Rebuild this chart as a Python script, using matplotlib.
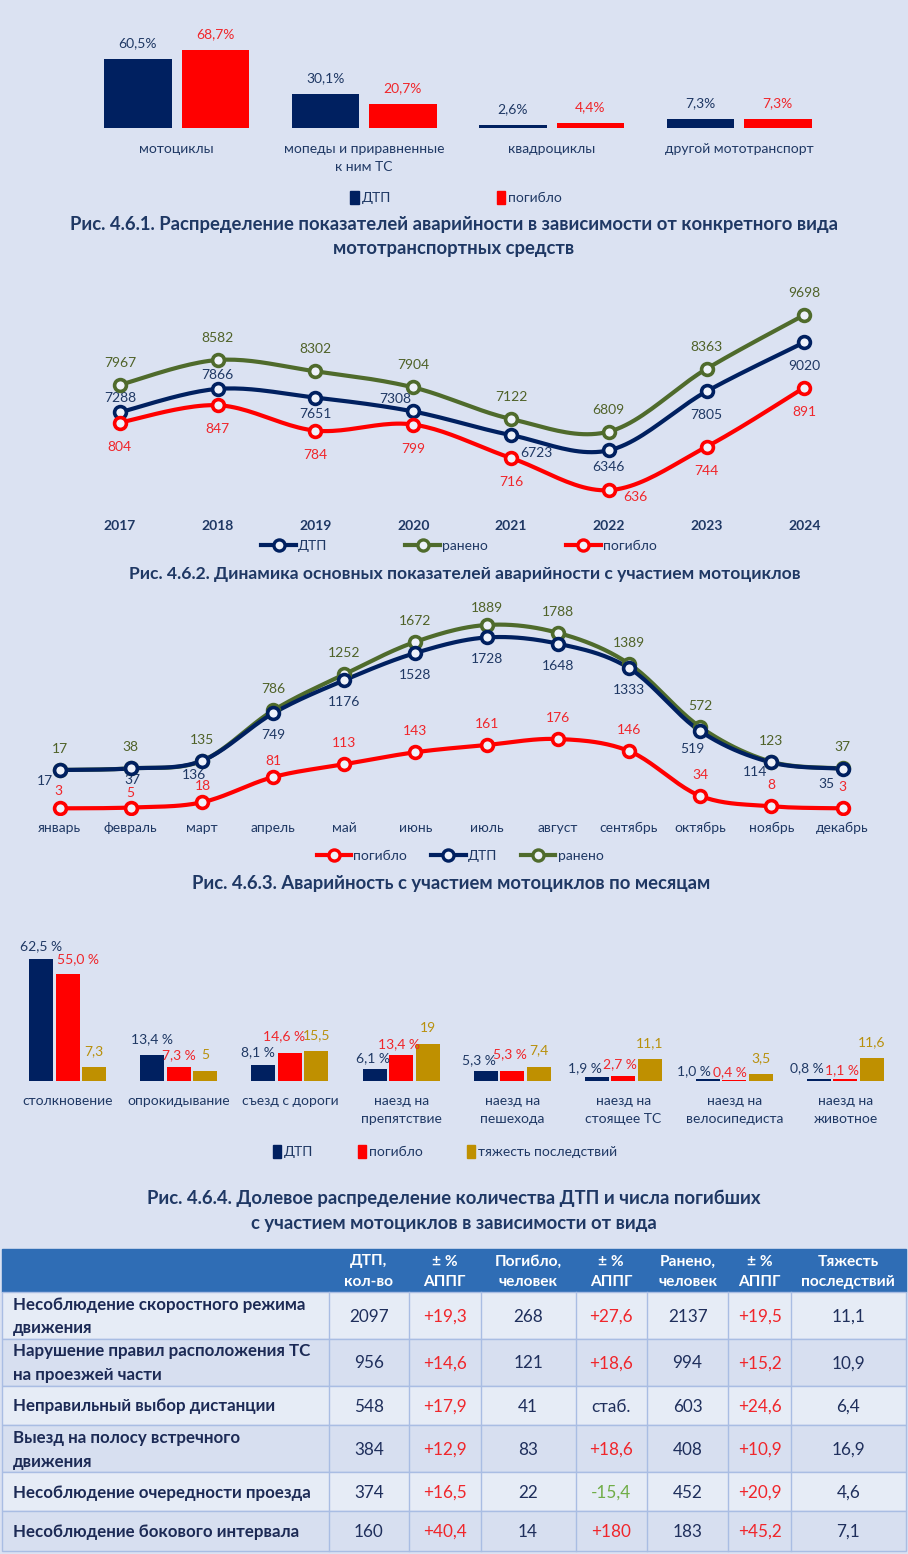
import numpy as np
import matplotlib
matplotlib.use('Agg')
import matplotlib.pyplot as plt
from matplotlib.patches import Rectangle, Patch
from matplotlib.lines import Line2D

plt.rcParams['font.family'] = ['Lato', 'DejaVu Sans']

# ------------------------------------------------
# DATA
# ------------------------------------------------

vid_cats = ['мотоциклы', 'мопеды и приравненные\nк ним ТС', 'квадроциклы', 'другой мототранспорт']
vid_dtp = [60.5, 30.1, 2.6, 7.3]
vid_killed = [68.7, 20.7, 4.4, 7.3]

years = ['2017', '2018', '2019', '2020', '2021', '2022', '2023', '2024']
year_dtp = [7288, 7866, 7651, 7308, 6723, 6346, 7805, 9020]
year_injured = [7967, 8582, 8302, 7904, 7122, 6809, 8363, 9698]
year_killed = [804, 847, 784, 799, 716, 636, 744, 891]

months = ['январь', 'февраль', 'март', 'апрель', 'май', 'июнь', 'июль',
          'август', 'сентябрь', 'октябрь', 'ноябрь', 'декабрь']
month_killed = [3, 5, 18, 81, 113, 143, 161, 176, 146, 34, 8, 3]
month_dtp = [17, 37, 136, 749, 1176, 1528, 1728, 1648, 1333, 519, 114, 35]
month_injured = [17, 38, 135, 786, 1252, 1672, 1889, 1788, 1389, 572, 123, 37]

types = ['столкновение', 'опрокидывание', 'съезд с дороги', 'наезд на\nпрепятствие',
         'наезд на\nпешехода', 'наезд на\nстоящее ТС', 'наезд на\nвелосипедиста', 'наезд на\nживотное']
type_dtp = [62.5, 13.4, 8.1, 6.1, 5.3, 1.9, 1.0, 0.8]
type_killed = [55.0, 7.3, 14.6, 13.4, 5.3, 2.7, 0.4, 1.1]
type_severity = [7.3, 5, 15.5, 19, 7.4, 11.1, 3.5, 11.6]

tab_rows = ['Несоблюдение скоростного режима\nдвижения',
            'Нарушение правил расположения ТС\nна проезжей части',
            'Неправильный выбор дистанции',
            'Выезд на полосу встречного\nдвижения',
            'Несоблюдение очередности проезда',
            'Несоблюдение бокового интервала']
tab_head = ['ДТП,\nкол-во', '± %\nАППГ', 'Погибло,\nчеловек', '± %\nАППГ',
            'Ранено,\nчеловек', '± %\nАППГ', 'Тяжесть\nпоследствий']
tab_dtp = [2097, 956, 548, 384, 374, 160]
tab_dtp_chg = ['+19,3', '+14,6', '+17,9', '+12,9', '+16,5', '+40,4']
tab_killed = [268, 121, 41, 83, 22, 14]
tab_killed_chg = ['+27,6', '+18,6', 'стаб.', '+18,6', '-15,4', '+180']
tab_injured = [2137, 994, 603, 408, 452, 183]
tab_injured_chg = ['+19,5', '+15,2', '+24,6', '+10,9', '+20,9', '+45,2']
tab_severity = ['11,1', '10,9', '6,4', '16,9', '4,6', '7,1']

# ------------------------------------------------
# STYLE
# ------------------------------------------------

BG = '#dbe2f2'
NAVY = '#002060'
RED = '#ff0000'
GREEN = '#4f6b2c'
GOLD = '#bf9000'
TXT = '#1f3864'
RED_T = '#f0262b'
GREEN_T = '#4f6228'
GOLD_T = '#b8900c'
MFC = '#eef2fa'

W, H = 908, 1554
fig = plt.figure(figsize=(W / 100, H / 100), dpi=100, facecolor=BG)


def box(l, t, r, b):
    return fig.add_axes([l / W, 1 - b / H, (r - l) / W, (b - t) / H])


def clean(ax):
    ax.set_facecolor('none')
    for s in ax.spines.values():
        s.set_visible(False)
    ax.tick_params(length=0)
    ax.set_yticks([])


def fmt(v, dec=1):
    return f'{v:.{dec}f}'.replace('.', ',')


def lbl(ax, x, y, s, dx, dy, color, size=10):
    ax.annotate(s, (x, y), xytext=(dx * 0.72, dy * 0.72), textcoords='offset points',
                ha='center', va='center', fontsize=size, color=color)


def smooth(x, y, n=24):
    # Catmull-Rom curve through the points, like Excel's smoothed line
    p = np.column_stack((x, y)).astype(float)
    p = np.vstack((p[0], p, p[-1]))
    out = []
    t = np.linspace(0, 1, n)[:, None]
    for i in range(1, len(p) - 2):
        p0, p1, p2, p3 = p[i - 1], p[i], p[i + 1], p[i + 2]
        seg = 0.5 * ((2 * p1) + (-p0 + p2) * t + (2 * p0 - 5 * p1 + 4 * p2 - p3) * t ** 2
                     + (-p0 + 3 * p1 - 3 * p2 + p3) * t ** 3)
        out.append(seg)
    out = np.vstack(out)
    return out[:, 0], out[:, 1]


def curve(ax, x, y, color, z=3):
    sx, sy = smooth(x, y)
    ax.plot(sx, sy, color=color, lw=3, solid_capstyle='round', zorder=z)
    ax.plot(x, y, 'o', ms=8.5, mfc=MFC, mec=color, mew=2.6, zorder=z + 1)


def line_handle(color):
    return Line2D([], [], color=color, lw=3, marker='o', ms=8, mfc=MFC, mec=color, mew=2.4)


def title(lines, cx, ys, size=13.3):
    for s, y in zip(lines, ys):
        fig.text(cx / W, 1 - y / H, s, ha='center', va='center', fontsize=size,
                 weight='bold', color=TXT)


# ------------------------------------------------
# 4.6.1  BARS BY VEHICLE TYPE
# ------------------------------------------------

ax1 = box(82.9, 37.3, 832.9, 127.7)
clean(ax1)
x = np.arange(len(vid_cats))
ax1.bar(x - 0.2064, vid_dtp, 0.36, color=NAVY)
ax1.bar(x + 0.2064, vid_killed, 0.36, color=RED)
ax1.set_xlim(-0.5, 3.5)
ax1.set_ylim(0, 80)
ax1.set_xticks(x, vid_cats, color=TXT, fontsize=10, linespacing=1.6)
ax1.tick_params(axis='x', pad=11)
for xi, v in zip(x, vid_dtp):
    lbl(ax1, xi - 0.2064, v, fmt(v) + '%', 0, 16, TXT)
for xi, v in zip(x, vid_killed):
    lbl(ax1, xi + 0.2064, v, fmt(v) + '%', 0, 16, RED_T)

fig.legend(handles=[Patch(color=NAVY), Patch(color=RED)], labels=['ДТП', 'погибло'],
           loc='center', bbox_to_anchor=(456 / W, 1 - 197.7 / H), ncol=2, frameon=False,
           fontsize=10, labelcolor=TXT, handlelength=0.6, handleheight=1.0,
           handletextpad=0.2, columnspacing=7.6)
title(['Рис. 4.6.1. Распределение показателей аварийности в зависимости от конкретного вида',
       'мототранспортных средств'], 454, [224.3, 248.3])

# ------------------------------------------------
# 4.6.2  DYNAMICS BY YEAR
# ------------------------------------------------

ax2 = box(71, 302.7, 853.2, 504.7)
clean(ax2)
ax2b = ax2.twinx()
clean(ax2b)
x = np.arange(len(years))
curve(ax2, x, year_injured, GREEN)
curve(ax2, x, year_dtp, NAVY)
curve(ax2b, x, year_killed, RED)
ax2.set_xlim(-0.5, 7.5)
ax2.set_ylim(5000, 10000)
ax2b.set_ylim(600, 1101.6)
ax2.set_xticks(x, years, color=TXT, fontsize=10, weight='bold')
ax2.tick_params(axis='x', pad=11)

dtp_off = [(0, 14), (0, 14), (0, -16), (-18, 12), (25, -18), (0, -17), (0, -24), (0, -24)]
killed_off = [(0, -24)] * 5 + [(27, -7), (0, -24), (0, -24)]
for xi, v in zip(x, year_injured):
    lbl(ax2, xi, v, str(v), 0, 22, GREEN_T)
for xi, v, o in zip(x, year_dtp, dtp_off):
    lbl(ax2, xi, v, str(v), o[0], o[1], TXT)
for xi, v, o in zip(x, year_killed, killed_off):
    lbl(ax2b, xi, v, str(v), o[0], o[1], RED_T)

fig.legend(handles=[line_handle(NAVY), line_handle(GREEN), line_handle(RED)],
           labels=['ДТП', 'ранено', 'погибло'], loc='center',
           bbox_to_anchor=(459 / W, 1 - 545.7 / H), ncol=3, frameon=False, fontsize=10,
           labelcolor=TXT, handlelength=2.5, handletextpad=0.15, columnspacing=5.6,
           numpoints=1)
title(['Рис. 4.6.2. Динамика основных показателей аварийности с участием мотоциклов'],
      465, [574.3], size=12.6)

# ------------------------------------------------
# 4.6.3  BY MONTH
# ------------------------------------------------

ax3 = box(24, 600, 878.1, 815)
clean(ax3)
ax3b = ax3.twinx()
clean(ax3b)
x = np.arange(len(months))
curve(ax3, x, month_injured, GREEN)
curve(ax3, x, month_dtp, NAVY)
curve(ax3b, x, month_killed, RED)
ax3.set_xlim(-0.5, 11.5)
ax3.set_ylim(-564, 2211.7)
ax3b.set_ylim(-13.7, 523)
ax3.set_xticks(x, months, color=TXT, fontsize=10)
ax3.tick_params(axis='x', pad=5)

inj_off = [(0, 21)] * 6 + [(0, 17)] + [(0, 21)] * 5
dtp_off = [(-15, -11), (2, -12), (-8, -14)] + [(0, -22)] * 6 + [(-8, -18), (-16, -10), (-16, -15)]
kil_off = [(-1, 17), (0, 15), (1, 16), (0, 16)] + [(0, 21)] * 8
for xi, v, o in zip(x, month_injured, inj_off):
    lbl(ax3, xi, v, str(v), o[0], o[1], GREEN_T)
for xi, v, o in zip(x, month_dtp, dtp_off):
    lbl(ax3, xi, v, str(v), o[0], o[1], TXT)
for xi, v, o in zip(x, month_killed, kil_off):
    lbl(ax3b, xi, v, str(v), o[0], o[1], RED_T)

fig.legend(handles=[line_handle(RED), line_handle(NAVY), line_handle(GREEN)],
           labels=['погибло', 'ДТП', 'ранено'], loc='center',
           bbox_to_anchor=(460 / W, 1 - 856 / H), ncol=3, frameon=False, fontsize=10,
           labelcolor=TXT, handlelength=2.5, handletextpad=0.15, columnspacing=1.7,
           numpoints=1)
title(['Рис. 4.6.3. Аварийность с участием мотоциклов по месяцам'], 451.6, [883])

# ------------------------------------------------
# 4.6.4  BY ACCIDENT TYPE
# ------------------------------------------------

ax4 = box(12.25, 944.5, 901, 1081)
clean(ax4)
x = np.arange(len(types))
bw, st = 0.216, 0.2385
ax4.bar(x - st, type_dtp, bw, color=NAVY)
ax4.bar(x, type_killed, bw, color=RED)
ax4.bar(x + st, type_severity, bw, color=GOLD)
ax4.set_xlim(-0.5, 7.5)
ax4.set_ylim(0, 70)
ax4.set_xticks(x, types, color=TXT, fontsize=10, linespacing=1.65)
ax4.tick_params(axis='x', pad=10)

dtp_off = [(0, 13), (0, 16), (-6, 13), (-2, 11), (-7, 11), (-12, 9), (-14, 8), (-12, 11)]
red_off = [(10, 15), (0, 12), (-6, 16), (-2, 11), (-2, 17), (-3, 12), (-4, 8), (-3, 9)]
for xi, v, o in zip(x, type_dtp, dtp_off):
    lbl(ax4, xi - st, v, fmt(v) + ' %', o[0], o[1], TXT)
for xi, v, o in zip(x, type_killed, red_off):
    lbl(ax4, xi, v, fmt(v) + ' %', o[0], o[1], RED_T)
for xi, v in zip(x, type_severity):
    lbl(ax4, xi + st, v, f'{v:g}'.replace('.', ','), 0, 16, GOLD_T)

fig.legend(handles=[Patch(color=NAVY), Patch(color=RED), Patch(color=GOLD)],
           labels=['ДТП', 'погибло', 'тяжесть последствий'], loc='center',
           bbox_to_anchor=(445 / W, 1 - 1151.7 / H), ncol=3, frameon=False, fontsize=10,
           labelcolor=TXT, handlelength=0.6, handleheight=1.0, handletextpad=0.2,
           columnspacing=3.2)
title(['Рис. 4.6.4. Долевое распределение количества ДТП и числа погибших',
       'с участием мотоциклов в зависимости от вида'], 453.8, [1198, 1224])

# ------------------------------------------------
# TABLE
# ------------------------------------------------

axt = fig.add_axes([0, 0, 1, 1])
axt.set_facecolor('none')
axt.set_axis_off()
axt.set_xlim(0, W)
axt.set_ylim(H, 0)

cols = [2.3, 328.9, 408.8, 480.6, 575.6, 646.8, 728.4, 791, 905.6]
rows = [1249.3, 1292.3, 1338.7, 1385.7, 1425.3, 1472, 1511.3, 1550.7]
LINE = '#a9bde3'

axt.add_patch(Rectangle((cols[0], rows[0]), cols[-1] - cols[0], rows[1] - rows[0],
                        facecolor='#2f6db5', edgecolor='#2f6db5'))
for j, h in enumerate(tab_head):
    axt.text((cols[j + 1] + cols[j + 2]) / 2, (rows[0] + rows[1]) / 2 + 1, h, ha='center',
             va='center', color='white', fontsize=11.2, weight='bold', linespacing=1.6)

body = [tab_dtp, tab_dtp_chg, tab_killed, tab_killed_chg, tab_injured, tab_injured_chg,
        tab_severity]
for i, name in enumerate(tab_rows):
    top, bot = rows[i + 1], rows[i + 2]
    axt.add_patch(Rectangle((cols[0], top), cols[-1] - cols[0], bot - top,
                            facecolor='#e6ecf6' if i % 2 == 0 else '#d7dff0',
                            edgecolor=LINE, lw=1))
    cy = (top + bot) / 2 + 1
    axt.text(12.7, cy, name, ha='left', va='center', color='#1c2a55', fontsize=12.2,
             weight='bold', linespacing=1.6)
    for j, col in enumerate(body):
        s = str(col[i])
        c = '#1f2f5c'
        if j in (1, 3, 5):
            c = RED_T if s.startswith('+') else ('#70ad47' if s.startswith('-') else c)
        axt.text((cols[j + 1] + cols[j + 2]) / 2, cy, s, ha='center', va='center',
                 color=c, fontsize=12.3)
for xc in cols[1:-1]:
    axt.plot([xc, xc], [rows[1], rows[-1]], color=LINE, lw=1)

fig.savefig('out.png', dpi=100, facecolor=BG)
